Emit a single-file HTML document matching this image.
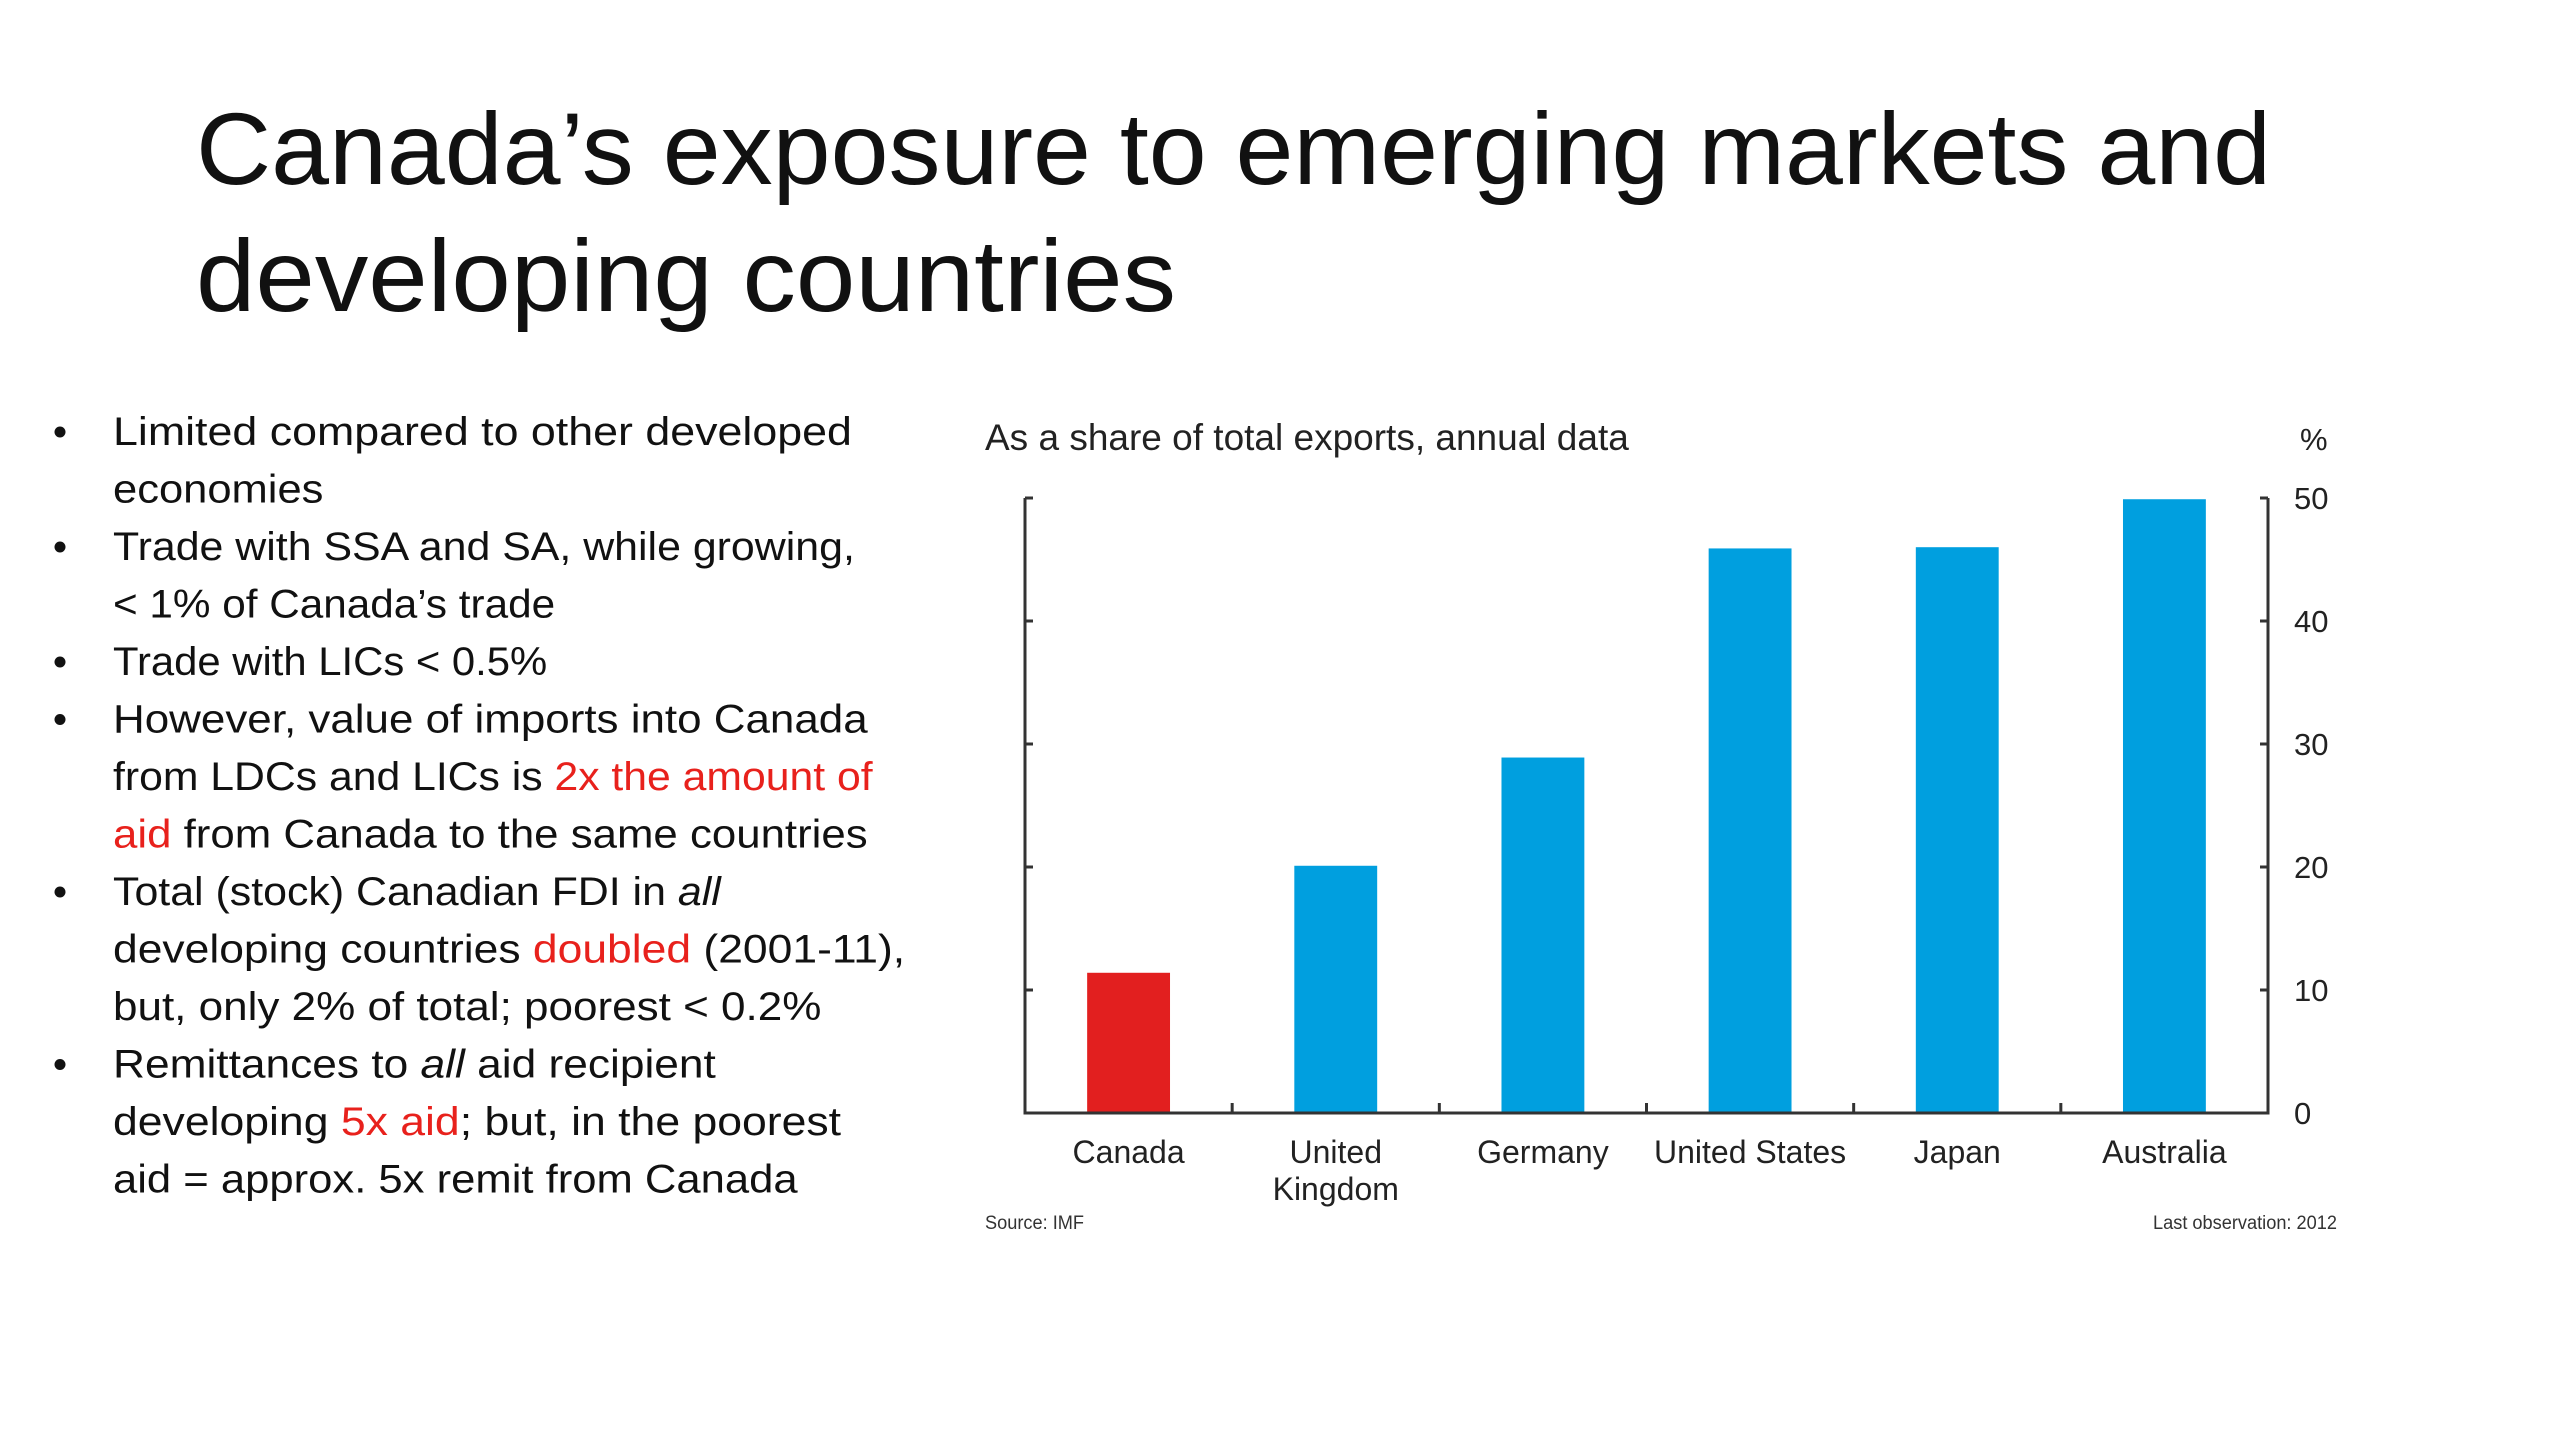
<!DOCTYPE html>
<html><head><meta charset="utf-8"><style>
html,body{margin:0;padding:0;background:#fff;}
svg{display:block;}
</style></head><body>
<svg id="page" width="2560" height="1440" viewBox="0 0 2560 1440" xmlns="http://www.w3.org/2000/svg">
<rect width="2560" height="1440" fill="#fff"/>
<g font-family="'Liberation Sans', sans-serif" font-size="102" fill="#111">
<text x="196" y="184" textLength="2075" lengthAdjust="spacingAndGlyphs">Canada’s exposure to emerging markets and</text>
<text x="196" y="311" textLength="980" lengthAdjust="spacingAndGlyphs">developing countries</text>
</g>
<g id="bullets" font-family="'Liberation Sans', sans-serif" font-size="40" fill="#111"></g>
<g id="chart" font-family="'Liberation Sans', sans-serif"></g>
</svg>
<script>
// chart data
const categories = ["Canada", "United\nKingdom", "Germany", "United States", "Japan", "Australia"];
const values = [11.4, 20.1, 28.9, 45.9, 46.0, 49.9];
const highlight = [true, false, false, false, false, false];
const yTicks = [0, 10, 20, 30, 40, 50];

const NS = "http://www.w3.org/2000/svg";
function mk(tag, attrs, parent, txt){const e=document.createElementNS(NS,tag);for(const k in attrs)e.setAttribute(k,attrs[k]);if(txt!==undefined)e.textContent=txt;parent.appendChild(e);return e;}

// bullets
const K = 0.986;
const lines = [
 [true, [["Limited compared to other developed"]], 864],
 [false,[["economies"]], 328],
 [true, [["Trade with SSA and SA, while growing,"]], 867],
 [false,[["< 1% of Canada’s trade"]], 563],
 [true, [["Trade with LICs < 0.5%"]], 555],
 [true, [["However, value of imports into Canada"]], 880],
 [false,[["from LDCs and LICs is "],["2x the amount of","r"]], 885],
 [false,[["aid","r"],[" from Canada to the same countries"]], 880],
 [true, [["Total (stock) Canadian FDI in "],["all","i"]], 731],
 [false,[["developing countries "],["doubled","r"],[" (2001-11),"]], 918],
 [false,[["but, only 2% of total; poorest < 0.2%"]], 833],
 [true, [["Remittances to "],["all","i"],[" aid recipient"]], 726],
 [false,[["developing "],["5x aid","r"],["; but, in the poorest"]], 853],
 [false,[["aid = approx. 5x remit from Canada"]], 809]
];
const bg = document.getElementById('bullets');
lines.forEach((l,i)=>{
  const y = 445 + i*57.5;
  if(l[0]){
    const b = mk('circle',{cx:60,cy:y-13,r:5.5,fill:'#111'},bg);
    
    
  }
  const t = mk('text',{x:113,y:y,textLength:l[2]*K-113,lengthAdjust:'spacingAndGlyphs'},bg);
  
  
  l[1].forEach(s=>{
    const sp = mk('tspan',{},t,s[0]);
    if(s[1]==='r') sp.setAttribute('fill','#e8211c');
    if(s[1]==='i') sp.setAttribute('font-style','italic');
  });
});

// chart
const ch = document.getElementById('chart');
const X0=1025, X1=2268, Y0=1113, Y1=498, VMAX=50;
const slot=(X1-X0)/categories.length;
const yS = v => Y0 - (v/VMAX)*(Y0-Y1);
const xC = i => X0 + slot*(i+0.5);
const bw = slot*0.4;

const st = mk('text',{x:985,y:450,'font-size':37,fill:'#222'},ch,'As a share of total exports, annual data');


const pc = mk('text',{x:2300,y:450,'font-size':31,fill:'#222'},ch,'%');



values.forEach((v,i)=>{
  const r = mk('rect',{x:xC(i)-bw/2,y:yS(v),width:bw,height:Y0-yS(v),fill:highlight[i]?'#e21f1f':'#009fdf'},ch);
  
  
});

const ax = mk('path',{d:`M${X0} ${Y1}V${Y0}H${X1}V${Y1}`,stroke:'#333','stroke-width':3,fill:'none'},ch);



yTicks.forEach(t=>{
  const y=yS(t);
  if(t>0){
    const tk = mk('path',{d:`M${X0} ${y}h8M${X1} ${y}h-8`,stroke:'#333','stroke-width':3},ch);
    
    
  }
  const lb = mk('text',{x:2294,y:y+11,'font-size':31,fill:'#222'},ch,String(t));
  
  
});

categories.forEach((c,i)=>{
  if(i>0){
    const tk = mk('path',{d:`M${X0+slot*i} ${Y0}v-10`,stroke:'#333','stroke-width':3},ch);
    
    
  }
  const parts=c.split('\n');
  const t = mk('text',{x:xC(i),y:1163,'font-size':32,fill:'#222','text-anchor':'middle'},ch);
  
  
  parts.forEach((p,j)=>mk('tspan',{x:xC(i),dy:j?37:0},t,p));
});

const s1 = mk('text',{x:985,y:1229,'font-size':19,fill:'#333',textLength:99,lengthAdjust:'spacingAndGlyphs'},ch,'Source: IMF');


const s2 = mk('text',{x:2337,y:1229,'font-size':19,fill:'#333','text-anchor':'end',textLength:184,lengthAdjust:'spacingAndGlyphs'},ch,'Last observation: 2012');


</script>
</body></html>
